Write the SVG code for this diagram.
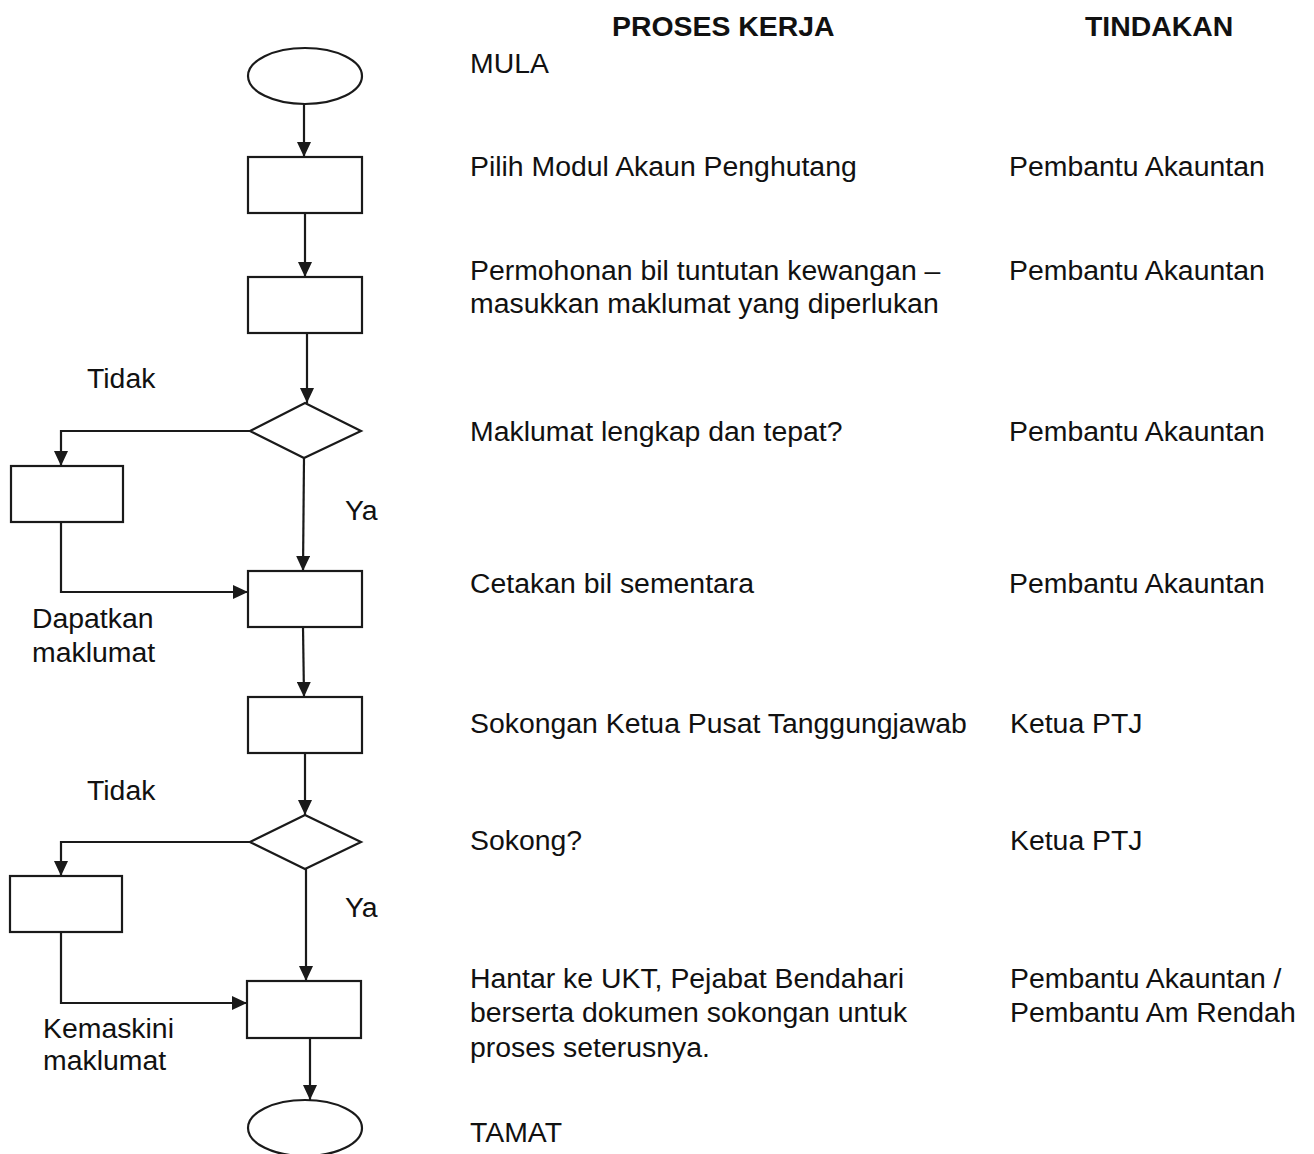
<svg xmlns="http://www.w3.org/2000/svg" width="1314" height="1154" viewBox="0 0 1314 1154">
<style>
.s{fill:#fff;stroke:#1a1a1a;stroke-width:2.2}
.c{fill:none;stroke:#1a1a1a;stroke-width:2.2}
text{font-family:"Liberation Sans",Arial,sans-serif;font-size:28.4px;fill:#111}
.h{font-weight:bold}
</style>
<defs>
<marker id="a" markerWidth="15" markerHeight="14" refX="15" refY="7" orient="auto" markerUnits="userSpaceOnUse">
<path d="M0,0 L15,7 L0,14 Z" fill="#1a1a1a"/>
</marker>
</defs>
<rect width="1314" height="1154" fill="#fff"/>
<g id="connectors">
<path class="c" d="M304,104 L304,157" marker-end="url(#a)"/>
<path class="c" d="M305,213 L305,277" marker-end="url(#a)"/>
<path class="c" d="M307,333 L307,403" marker-end="url(#a)"/>
<path class="c" d="M250,431 L61,431 L61,466" marker-end="url(#a)"/>
<path class="c" d="M61,522 L61,592 L248,592" marker-end="url(#a)"/>
<path class="c" d="M304,458 L303,571" marker-end="url(#a)"/>
<path class="c" d="M303,627 L304,697" marker-end="url(#a)"/>
<path class="c" d="M305,753 L305,815" marker-end="url(#a)"/>
<path class="c" d="M250,842 L61,842 L61,876" marker-end="url(#a)"/>
<path class="c" d="M61,932 L61,1003 L247,1003" marker-end="url(#a)"/>
<path class="c" d="M306,869 L306,981" marker-end="url(#a)"/>
<path class="c" d="M310,1038 L310,1100" marker-end="url(#a)"/>
</g>
<g id="start"><ellipse class="s" cx="305" cy="76" rx="57" ry="28"/></g>
<g id="n1"><rect class="s" x="248" y="157" width="114" height="56"/></g>
<g id="n2"><rect class="s" x="248" y="277" width="114" height="56"/></g>
<g id="d1"><polygon class="s" points="305,403 361,431 304,458 250,431"/></g>
<g id="n3"><rect class="s" x="11" y="466" width="112" height="56"/></g>
<g id="n4"><rect class="s" x="248" y="571" width="114" height="56"/></g>
<g id="n5"><rect class="s" x="248" y="697" width="114" height="56"/></g>
<g id="d2"><polygon class="s" points="305,815 361,842 305,869 250,842"/></g>
<g id="n6"><rect class="s" x="10" y="876" width="112" height="56"/></g>
<g id="n7"><rect class="s" x="247" y="981" width="114" height="57"/></g>
<g id="end"><ellipse class="s" cx="305" cy="1128" rx="57" ry="28"/></g>
<g id="labels">
<text x="87" y="388">Tidak</text>
<text x="345" y="520">Ya</text>
<text x="32" y="628">Dapatkan</text>
<text x="32" y="662">maklumat</text>
<text x="87" y="800">Tidak</text>
<text x="345" y="917">Ya</text>
<text x="43" y="1038">Kemaskini</text>
<text x="43" y="1070">maklumat</text>
</g>
<g id="table">
<text class="h" x="612" y="36">PROSES KERJA</text>
<text class="h" x="1085" y="36">TINDAKAN</text>
<text x="470" y="73">MULA</text>
<text x="470" y="176">Pilih Modul Akaun Penghutang</text>
<text x="1009" y="176">Pembantu Akauntan</text>
<text x="470" y="280">Permohonan bil tuntutan kewangan –</text>
<text x="470" y="313">masukkan maklumat yang diperlukan</text>
<text x="1009" y="280">Pembantu Akauntan</text>
<text x="470" y="441">Maklumat lengkap dan tepat?</text>
<text x="1009" y="441">Pembantu Akauntan</text>
<text x="470" y="593">Cetakan bil sementara</text>
<text x="1009" y="593">Pembantu Akauntan</text>
<text x="470" y="733">Sokongan Ketua Pusat Tanggungjawab</text>
<text x="1010" y="733">Ketua PTJ</text>
<text x="470" y="850">Sokong?</text>
<text x="1010" y="850">Ketua PTJ</text>
<text x="470" y="988">Hantar ke UKT, Pejabat Bendahari</text>
<text x="470" y="1022">berserta dokumen sokongan untuk</text>
<text x="470" y="1057">proses seterusnya.</text>
<text x="1010" y="988">Pembantu Akauntan /</text>
<text x="1010" y="1022">Pembantu Am Rendah</text>
<text x="470" y="1142">TAMAT</text>
</g>
</svg>
